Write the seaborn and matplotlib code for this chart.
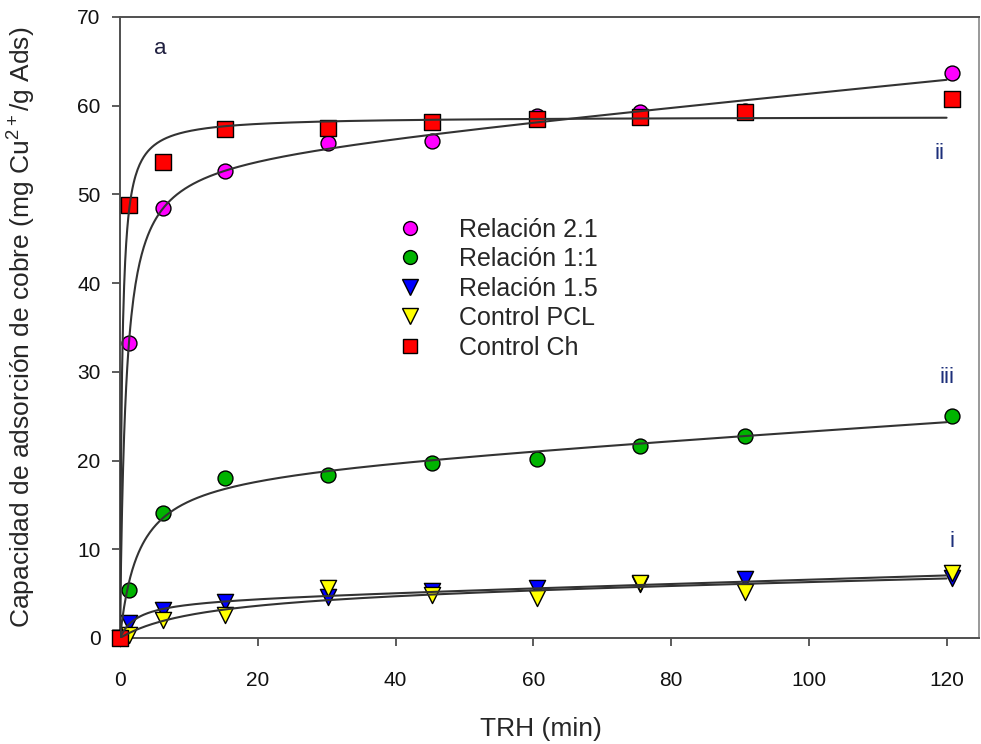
import numpy as np
import pandas as pd
import matplotlib
matplotlib.use("Agg")
import matplotlib.pyplot as plt
from matplotlib.lines import Line2D
import seaborn as sns

# ---------------- data ----------------
tiempo = [0, 1.3, 6.3, 15.2, 30.2, 45.3, 60.5, 75.5, 90.7, 120.8]
relacion_21 = [0, 33.2, 48.5, 52.6, 55.8, 56.0, 58.8, 59.3, 59.4, 63.7]
relacion_11 = [0, 5.4, 14.1, 18.0, 18.4, 19.7, 20.2, 21.6, 22.8, 25.0]
relacion_15 = [0, 1.7, 3.1, 4.1, 4.6, 5.3, 5.6, 6.1, 6.6, 6.8]
control_pcl = [0, 0.3, 2.0, 2.6, 5.6, 4.9, 4.5, 6.2, 5.2, 7.3]
control_ch = [0, 48.8, 53.7, 57.4, 57.5, 58.2, 58.5, 58.7, 59.3, 60.8]

series_names = ["Relación 2.1", "Relación 1:1", "Relación 1.5", "Control PCL", "Control Ch"]
series_values = [relacion_21, relacion_11, relacion_15, control_pcl, control_ch]
series_colors = ["#ff00ff", "#00b400", "#0000ff", "#ffff00", "#ff0000"]
series_markers = ["o", "o", "v", "v", "s"]
series_linear = [True, True, True, True, False]

x_ticks = [0, 20, 40, 60, 80, 100, 120]
y_ticks = [0, 10, 20, 30, 40, 50, 60, 70]


def fit_curve(x, y, linear=True):
    x = np.asarray(x, float)
    y = np.asarray(y, float)
    best = None
    for b in np.logspace(-2, 2.5, 2500):
        cols = [x / (b + x)]
        if linear:
            cols.append(x)
        A = np.column_stack(cols)
        coef, *_ = np.linalg.lstsq(A, y, rcond=None)
        sse = np.sum((A @ coef - y) ** 2)
        if best is None or sse < best[0]:
            best = (sse, b, coef)
    _, b, coef = best

    def f(t):
        t = np.asarray(t, float)
        out = coef[0] * t / (b + t)
        if linear:
            out = out + coef[1] * t
        return out
    return f


# ---------------- figure ----------------
sns.set_style("white")
plt.rcParams["font.family"] = ["Liberation Sans", "DejaVu Sans"]
plt.rcParams["mathtext.fontset"] = "custom"
plt.rcParams["mathtext.rm"] = "Liberation Sans"
plt.rcParams["mathtext.default"] = "regular"

fig = plt.figure(figsize=(9.81, 7.44), dpi=100)
ax = fig.add_axes([0.1223, 0.1425, 0.8756, 0.8347])

df = pd.DataFrame({
    "TRH": np.tile(tiempo, len(series_names)),
    "valor": np.concatenate(series_values),
    "serie": np.repeat(series_names, len(tiempo)),
})

tt = np.linspace(0, 120, 800)
fit_rows = []
for name, vals, lin in zip(series_names, series_values, series_linear):
    f = fit_curve(tiempo, vals, lin)
    fit_rows.append(pd.DataFrame({"TRH": tt, "valor": f(tt), "serie": name}))
fit_df = pd.concat(fit_rows, ignore_index=True)

for i, (name, col, mk) in enumerate(zip(series_names, series_colors, series_markers)):
    sub = df[df["serie"] == name]
    size = 135 if mk == "v" else (125 if mk == "s" else 115)
    sns.scatterplot(data=sub, x="TRH", y="valor", ax=ax, color=col, marker=mk,
                    s=size, edgecolor="black", linewidth=1.0, zorder=3 + i * 0.1,
                    clip_on=False, legend=False)

for name in series_names:
    sub = fit_df[fit_df["serie"] == name]
    sns.lineplot(data=sub, x="TRH", y="valor", ax=ax, color="#333333", lw=1.5,
                 estimator=None, sort=False, zorder=5, legend=False)

ax.set_xlim(0, 124.7)
ax.set_ylim(0, 70)
ax.set_xticks(x_ticks)
ax.set_yticks(y_ticks)
ax.tick_params(axis="both", direction="out", length=6, width=1.2, color="#404040",
               labelsize=15, labelcolor="#111111")
ax.tick_params(axis="x", pad=18)
ax.tick_params(axis="y", pad=8)
ax.tick_params(bottom=True, left=True)

for side, sp in ax.spines.items():
    sp.set_linewidth(1.4)
    sp.set_color("#505050" if side in ("left", "bottom", "top") else "#999999")

ax.set_xlabel("TRH (min)", fontsize=19)
ax.set_ylabel("Capacidad de adsorción de cobre (mg Cu$^{2+}$/g Ads)", fontsize=19)
ax.xaxis.set_label_coords(0.49, -0.128)
ax.yaxis.set_label_coords(-0.095, 0.5)

handles = [Line2D([], [], linestyle="none", marker=mk, markersize=11 if mk == "v" else 10,
                  markerfacecolor=col, markeredgecolor="black", markeredgewidth=1.0)
           for col, mk in zip(series_colors, series_markers)]
ax.legend(handles, series_names, loc="upper left", bbox_to_anchor=(0.3236, 0.677),
          frameon=False, fontsize=18, handlelength=1.0, handletextpad=1.45,
          labelspacing=0.22, borderpad=0, borderaxespad=0)

ann_color = "#1c2f7a"
ax.text(5.8, 66.5, "a", fontsize=16, color="#202040", ha="center", va="center")
ax.text(119.0, 54.6, "ii", fontsize=16, color=ann_color, ha="center", va="center")
ax.text(120.0, 29.4, "iii", fontsize=16, color=ann_color, ha="center", va="center")
ax.text(120.8, 10.9, "i", fontsize=16, color=ann_color, ha="center", va="center")

fig.savefig("out.png", dpi=100)
